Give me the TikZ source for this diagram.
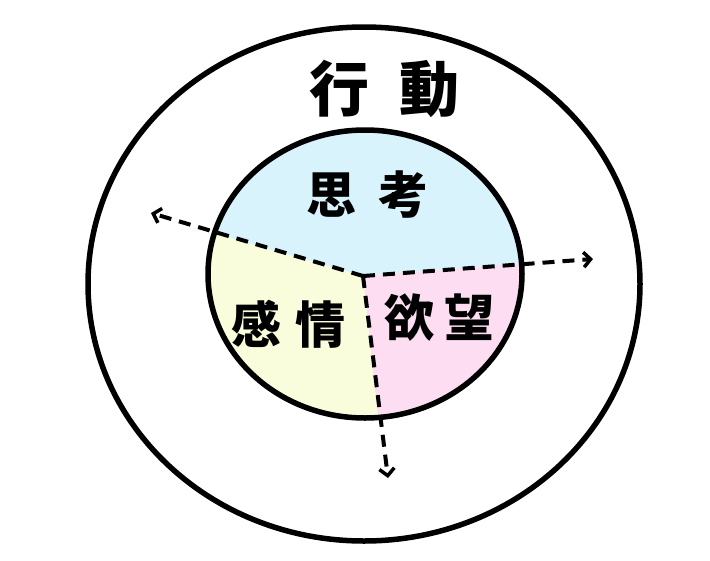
\documentclass[tikz,border=0pt]{standalone}
\usepackage{fontspec}
\newfontfamily\jpfont{Noto Sans CJK JP}
\usetikzlibrary{arrows.meta,calc}

\definecolor{thinkblue}{HTML}{D8F3FC}
\definecolor{feelyellow}{HTML}{FAFDDB}
\definecolor{wishpink}{HTML}{FCDDF1}

\begin{document}
\begin{tikzpicture}[
    x=1pt, y=-1pt,
    bar/.tip={Straight Barb[length=7pt,width=15pt,line width=3.5pt]},
    ring/.style={line width=5.5pt},
    split/.style={line width=4pt, dash pattern=on 12pt off 8pt, -bar},
    word/.style={font=\jpfont\bfseries\fontsize{50}{56}\selectfont, inner sep=0pt},
]
    \useasboundingbox (0,0) rectangle (710,560);

    \coordinate (mid) at (363,276);
    \coordinate (cutL) at (215,234);
    \coordinate (cutR) at (521,263);
    \coordinate (cutB) at (378,418);
    \coordinate (tipL) at (151,213);
    \coordinate (tipR) at (593,259);
    \coordinate (tipB) at (388,478);

    % coloured parts
    \begin{scope}
        \clip (365,274) ellipse [x radius=157pt, y radius=144pt];
        \fill[thinkblue] (mid) -- ($(mid)!2!(cutL)$) -- (100,60) -- (640,60) -- ($(mid)!2!(cutR)$) -- cycle;
        \fill[feelyellow] (mid) -- ($(mid)!2!(cutL)$) -- (100,480) -- ($(mid)!2!(cutB)$) -- cycle;
        \fill[wishpink] (mid) -- ($(mid)!2!(cutR)$) -- (640,480) -- ($(mid)!2!(cutB)$) -- cycle;
    \end{scope}

    \draw[ring] (364,284) ellipse [x radius=276pt, y radius=257pt];
    \draw[ring] (365,274) ellipse [x radius=157pt, y radius=144pt];

    \draw[split] (mid) -- (tipL);
    \draw[split] (mid) -- (tipR);
    \draw[split] (mid) -- (tipB);

    \node[word, font=\jpfont\bfseries\fontsize{60}{66}\selectfont] (act) at (384,89) {行\hspace{30pt}動};
    \node[word] (think) at (367,195) {思\hspace{22pt}考};
    \node[word] (feel) at (288,324) {感\hspace{14pt}情};
    \node[word] (wish) at (439,318) {欲\hspace{10pt}望};
\end{tikzpicture}
\end{document}
